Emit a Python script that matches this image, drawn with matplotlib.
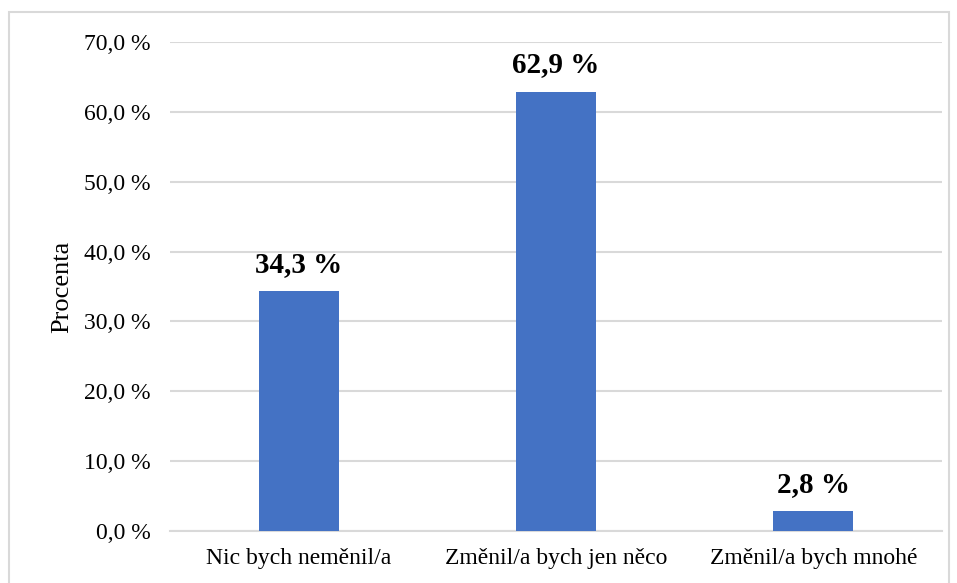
import matplotlib.pyplot as plt
from matplotlib.patches import Rectangle
from matplotlib.ticker import FuncFormatter

categories = ["Nic bych neměnil/a", "Změnil/a bych jen něco", "Změnil/a bych mnohé"]
values = [34.3, 62.9, 2.8]
yticks = [0, 10, 20, 30, 40, 50, 60, 70]

plt.rcParams['font.family'] = ['Liberation Serif', 'DejaVu Serif']

fig = plt.figure(figsize=(9.57, 5.83), dpi=100)
ax = fig.add_axes([170 / 957, 1 - 531 / 583, 772 / 957, 489 / 583])

ax.bar(range(len(values)), values, width=0.31, color="#4472C4", zorder=3)
for i, v in enumerate(values):
    ax.text(i, v + 1.9, f"{v:.1f} %".replace(".", ","), ha="center", va="bottom",
            fontsize=21, fontweight="bold")

ax.set_xlim(-0.5, 2.5)
ax.set_ylim(0, 70)
ax.set_yticks(yticks)
ax.yaxis.set_major_formatter(FuncFormatter(lambda y, p: f"{y:.1f} %".replace(".", ",")))
ax.set_xticks(range(len(categories)))
ax.set_xticklabels(categories)
ax.tick_params(axis="both", length=0, labelsize=17, colors="black")
ax.tick_params(axis="y", pad=14)
ax.tick_params(axis="x", pad=12)
ax.grid(axis="y", color="#d9d9d9", linewidth=1.5, zorder=0)
for s in ["top", "right", "left"]:
    ax.spines[s].set_visible(False)
ax.spines["bottom"].set_color("#d9d9d9")
ax.spines["bottom"].set_linewidth(1.5)
ax.set_ylabel("Procenta", fontsize=19, labelpad=8)

fig.patches.append(Rectangle((9 / 957, -0.05), 940 / 957, 1.05 - 12 / 583,
                             transform=fig.transFigure, fill=False,
                             edgecolor="#d9d9d9", linewidth=1.5))

fig.savefig("out.png", dpi=100)
